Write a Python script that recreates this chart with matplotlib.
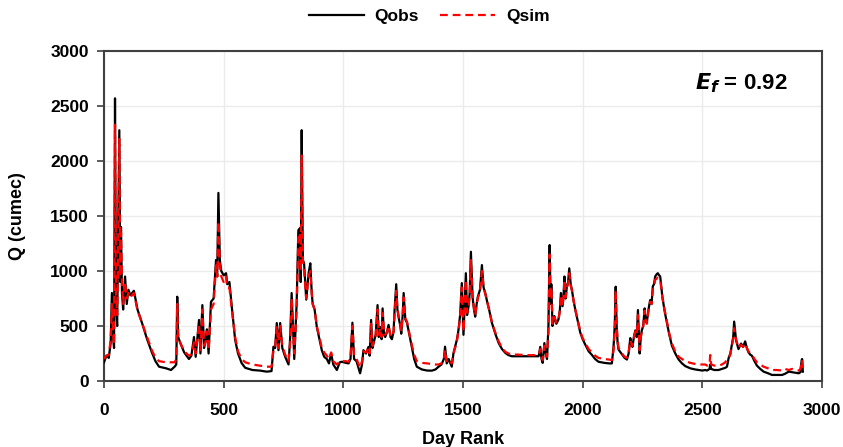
import matplotlib
matplotlib.use("Agg")
import matplotlib.pyplot as plt
from matplotlib import font_manager

day = [0, 10, 20, 28, 33, 38, 42, 46, 50, 55, 58, 64, 68, 71, 75, 80, 88, 95, 102, 110, 125, 140, 160, 180, 200, 215, 230, 260, 280, 295, 302, 306, 310, 318, 335, 355, 365, 376, 383, 397, 403, 411, 418, 425, 430, 437, 447, 458, 468, 473, 478, 484, 490, 500, 510, 515, 524, 534, 548, 560, 575, 590, 620, 650, 680, 700, 708, 715, 722, 729, 736, 745, 757, 771, 778, 784, 795, 805, 812, 819, 822, 826, 831, 836, 845, 855, 862, 868, 872, 880, 889, 900, 910, 920, 931, 940, 949, 958, 973, 985, 994, 1010, 1022, 1030, 1038, 1045, 1055, 1070, 1078, 1084, 1095, 1105, 1110, 1116, 1122, 1126, 1135, 1143, 1148, 1154, 1160, 1164, 1170, 1175, 1183, 1189, 1197, 1203, 1210, 1214, 1221, 1226, 1231, 1238, 1242, 1248, 1252, 1259, 1266, 1276, 1286, 1296, 1307, 1328, 1350, 1370, 1385, 1398, 1410, 1420, 1425, 1432, 1440, 1453, 1460, 1467, 1475, 1481, 1488, 1495, 1502, 1507, 1512, 1517, 1523, 1528, 1533, 1540, 1546, 1551, 1557, 1562, 1571, 1579, 1586, 1593, 1600, 1610, 1621, 1635, 1649, 1663, 1677, 1690, 1704, 1730, 1760, 1790, 1816, 1823, 1828, 1833, 1840, 1846, 1851, 1857, 1862, 1866, 1869, 1874, 1882, 1890, 1899, 1905, 1909, 1916, 1920, 1924, 1929, 1934, 1939, 1944, 1950, 1955, 1962, 1969, 1980, 1990, 2000, 2011, 2025, 2039, 2052, 2066, 2090, 2110, 2122, 2129, 2134, 2138, 2142, 2146, 2150, 2165, 2175, 2185, 2192, 2199, 2204, 2208, 2214, 2220, 2226, 2231, 2238, 2243, 2247, 2253, 2259, 2263, 2268, 2275, 2282, 2288, 2293, 2298, 2303, 2309, 2314, 2320, 2324, 2333, 2342, 2352, 2362, 2373, 2387, 2401, 2415, 2429, 2450, 2470, 2484, 2500, 2512, 2520, 2530, 2533, 2537, 2550, 2568, 2582, 2596, 2603, 2610, 2617, 2624, 2629, 2633, 2637, 2641, 2646, 2651, 2657, 2662, 2670, 2679, 2686, 2693, 2700, 2707, 2718, 2728, 2742, 2756, 2775, 2791, 2810, 2833, 2845, 2861, 2875, 2890, 2903, 2910, 2915, 2917, 2920]

q_obs = [170, 230, 210, 350, 800, 400, 300, 2570, 700, 500, 1100, 2280, 900, 1400, 800, 650, 950, 700, 830, 780, 820, 650, 520, 380, 260, 180, 130, 115, 100, 130, 150, 766, 400, 350, 260, 200, 230, 400, 220, 555, 250, 690, 300, 380, 470, 250, 720, 750, 1100, 950, 1710, 1100, 1000, 960, 980, 880, 900, 675, 373, 250, 163, 120, 100, 95, 85, 90, 312, 300, 527, 280, 527, 300, 220, 150, 400, 800, 200, 710, 1370, 1390, 900, 2280, 1100, 1070, 740, 980, 1070, 800, 700, 650, 494, 380, 280, 220, 200, 160, 250, 150, 100, 170, 175, 165, 160, 200, 530, 200, 180, 70, 150, 280, 250, 310, 230, 555, 300, 340, 420, 690, 400, 490, 380, 660, 420, 400, 450, 510, 400, 380, 450, 640, 880, 650, 580, 500, 430, 600, 800, 560, 530, 420, 312, 200, 130, 105, 95, 94, 105, 130, 150, 200, 312, 160, 200, 130, 250, 312, 380, 463, 600, 890, 420, 700, 980, 600, 675, 800, 1175, 760, 650, 585, 700, 766, 830, 1054, 850, 800, 730, 640, 527, 430, 345, 290, 255, 235, 225, 225, 225, 225, 225, 310, 200, 165, 345, 250, 200, 500, 1236, 700, 880, 500, 590, 520, 560, 650, 800, 680, 780, 950, 750, 860, 900, 1024, 880, 830, 730, 650, 540, 440, 380, 330, 270, 236, 200, 175, 165, 160, 160, 310, 500, 857, 500, 345, 285, 240, 210, 195, 250, 390, 330, 310, 400, 460, 400, 645, 250, 400, 460, 500, 660, 550, 530, 650, 736, 700, 860, 880, 950, 970, 980, 960, 950, 766, 640, 530, 420, 320, 250, 195, 160, 135, 115, 105, 100, 95, 100, 95, 110, 150, 110, 100, 100, 110, 120, 130, 210, 250, 340, 400, 540, 450, 370, 330, 290, 320, 340, 310, 360, 300, 260, 240, 230, 180, 140, 110, 85, 70, 55, 55, 55, 65, 85, 80, 75, 70, 80, 190, 200, 85]

q_sim = [200, 230, 240, 380, 700, 420, 330, 2330, 800, 600, 1000, 2200, 950, 1350, 900, 700, 900, 750, 800, 760, 800, 640, 520, 400, 280, 210, 180, 170, 170, 170, 200, 700, 380, 350, 270, 230, 240, 350, 250, 520, 270, 650, 320, 360, 450, 280, 650, 700, 1050, 950, 1450, 1050, 950, 900, 950, 850, 850, 650, 400, 270, 200, 170, 150, 140, 130, 130, 280, 300, 500, 300, 500, 320, 240, 180, 350, 750, 250, 650, 1300, 1350, 1000, 2050, 1100, 1000, 750, 950, 1000, 800, 700, 650, 500, 400, 300, 260, 230, 200, 260, 180, 150, 180, 180, 180, 175, 220, 500, 220, 200, 120, 180, 270, 260, 300, 250, 520, 320, 350, 400, 650, 420, 480, 400, 620, 440, 420, 450, 500, 410, 400, 450, 600, 820, 650, 590, 520, 450, 600, 760, 570, 540, 430, 330, 240, 180, 165, 160, 155, 150, 150, 160, 190, 280, 180, 200, 160, 250, 300, 370, 450, 580, 850, 450, 680, 920, 620, 660, 780, 1100, 760, 660, 600, 700, 750, 820, 1000, 850, 790, 730, 640, 530, 440, 360, 300, 265, 250, 240, 240, 235, 235, 235, 290, 220, 190, 320, 260, 220, 450, 1150, 750, 850, 520, 580, 530, 560, 640, 780, 680, 760, 920, 760, 850, 880, 980, 870, 820, 730, 650, 550, 450, 390, 345, 290, 260, 230, 210, 200, 195, 190, 280, 480, 820, 520, 360, 300, 250, 220, 210, 260, 370, 340, 320, 390, 450, 420, 600, 280, 400, 450, 500, 640, 560, 520, 640, 720, 700, 830, 860, 920, 930, 940, 930, 920, 760, 650, 540, 430, 340, 270, 220, 200, 180, 165, 155, 150, 150, 150, 140, 150, 236, 150, 140, 140, 150, 170, 200, 210, 240, 330, 380, 480, 420, 380, 340, 300, 320, 330, 310, 340, 300, 270, 250, 240, 200, 170, 150, 130, 115, 100, 100, 95, 110, 100, 110, 100, 95, 110, 180, 190, 110]

x_ticks = [0, 500, 1000, 1500, 2000, 2500, 3000]
y_ticks = [0, 500, 1000, 1500, 2000, 2500, 3000]

names = {f.name for f in font_manager.fontManager.ttflist}
fam = ["Liberation Sans Narrow", "DejaVu Sans"] if "Liberation Sans Narrow" in names else ["Liberation Sans", "DejaVu Sans"]
plt.rcParams["font.family"] = fam

fig = plt.figure(figsize=(8.43, 4.47), dpi=100)
ax = fig.add_axes([104/843, 1-381/447, (822-104)/843, (381-51)/447])

ax.plot(day, q_obs, color="black", lw=1.6, label="Qobs", zorder=3)
ax.plot(day, q_sim, color="#ff0000", lw=1.6, ls=(0, (3.5, 2.2)), label="Qsim", zorder=4)

ax.set_xlim(0, 3000)
ax.set_ylim(0, 3000)
ax.set_xticks(x_ticks)
ax.set_yticks(y_ticks)
ax.grid(True, color="#ebebeb", lw=1.0, zorder=0)
ax.set_axisbelow(True)
for s in ax.spines.values():
    s.set_color("#404040")
    s.set_linewidth(1.5)
ax.tick_params(axis="both", direction="out", length=5, width=1.2, color="#404040",
               labelsize=12.5)
ax.tick_params(axis="x", pad=11)
ax.tick_params(axis="y", pad=6)
for lab in ax.get_xticklabels() + ax.get_yticklabels():
    lab.set_fontweight("bold")
ax.set_xlabel("Day Rank", fontsize=13, fontweight="bold", labelpad=9)
ax.set_ylabel("Q (cumec)", fontsize=13, fontweight="bold", labelpad=17)

ax.text(2470, 2710, r"$\mathbfit{E}_{\mathbfit{f}}$ = 0.92", fontsize=16, fontweight="bold",
        va="center", ha="left")

fig.legend(loc="upper center", bbox_to_anchor=(0.509, 1.015), ncol=2, frameon=False,
           prop={"weight": "bold", "size": 12.5}, handlelength=3.2, columnspacing=1.2,
           handletextpad=0.6)

fig.savefig("out.png", dpi=100)
